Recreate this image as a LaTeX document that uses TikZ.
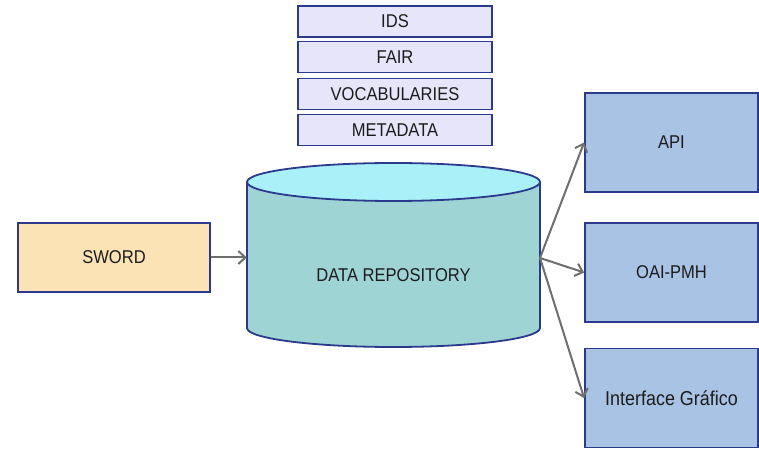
\documentclass[tikz,border=0pt]{standalone}
\usepackage{fontspec}
\setmainfont{Liberation Sans}
\usetikzlibrary{arrows.meta}
\definecolor{navy}{HTML}{2B3A8C}
\definecolor{lav}{HTML}{E6E5FA}
\definecolor{sand}{HTML}{FBE3B5}
\definecolor{cylbody}{HTML}{9FD4D5}
\definecolor{cyltop}{HTML}{AAF0F8}
\definecolor{outbox}{HTML}{A9C3E4}
\definecolor{arrowgray}{HTML}{6E6E6E}
\definecolor{txt}{HTML}{1C1C1C}
\newcommand{\tallt}[1]{\scalebox{1}[1.12]{#1}}
\tikzset{
  box/.style={draw=navy, line width=1.8bp, inner sep=0pt, text=txt,
    font=\fontsize{16.6}{19}\selectfont},
  stackbox/.style={box, fill=lav, minimum width=194bp, minimum height=31bp},
  srcbox/.style={box, fill=sand, minimum width=192bp, minimum height=69bp},
  outnode/.style={box, fill=outbox, minimum width=173bp, minimum height=99bp},
  flow/.style={draw=arrowgray, line width=2bp, -{Straight Barb[length=7bp,width=13bp]}},
  cylline/.style={draw=navy, line width=1.8bp}
}
\begin{document}
\begin{tikzpicture}[x=1bp,y=-1bp]
\useasboundingbox (0,0) rectangle (759,449);
\fill[white] (0,0) rectangle (759,449);
% stacked boxes
\node[stackbox] (ids) at (395,21.5) {\tallt{IDS}};
\node[stackbox] (fair) at (395,57) {\tallt{FAIR}};
\node[stackbox] (vocab) at (395,94) {\tallt{VOCABULARIES}};
\node[stackbox] (meta) at (395,130) {\tallt{METADATA}};
% cylinder
\draw[cylline, fill=cylbody] (393.5,328) ellipse [x radius=146.5, y radius=19];
\fill[cylbody] (247,182) rectangle (540,328);
\draw[cylline] (247,182) -- (247,328);
\draw[cylline] (540,182) -- (540,328);
\draw[cylline, fill=cyltop] (393.5,182) ellipse [x radius=146.5, y radius=19];
\node[minimum width=293bp, minimum height=184bp, inner sep=0pt] (repo) at (393.5,255) {};
\node[text=txt, font=\fontsize{16.6}{19}\selectfont] (repolabel) at (393.5,275) {\tallt{DATA REPOSITORY}};
\coordinate (hub) at (540,258);
% source
\node[srcbox] (sword) at (114,257.5) {\tallt{SWORD}};
% outputs
\node[outnode] (api) at (671.5,142.5) {\tallt{API}};
\node[outnode] (oai) at (671.5,272.5) {\tallt{OAI-PMH}};
\node[outnode, font=\fontsize{18}{21}\selectfont] (gui) at (671.5,398) {\tallt{Interface Gráfico}};
% connectors
\draw[flow] (sword.east) -- (sword.east -| repo.west);
\draw[flow] (hub) -- (api.west);
\draw[flow] (hub) -- (oai.west);
\draw[flow] (hub) -- (gui.west);
\end{tikzpicture}
\end{document}
